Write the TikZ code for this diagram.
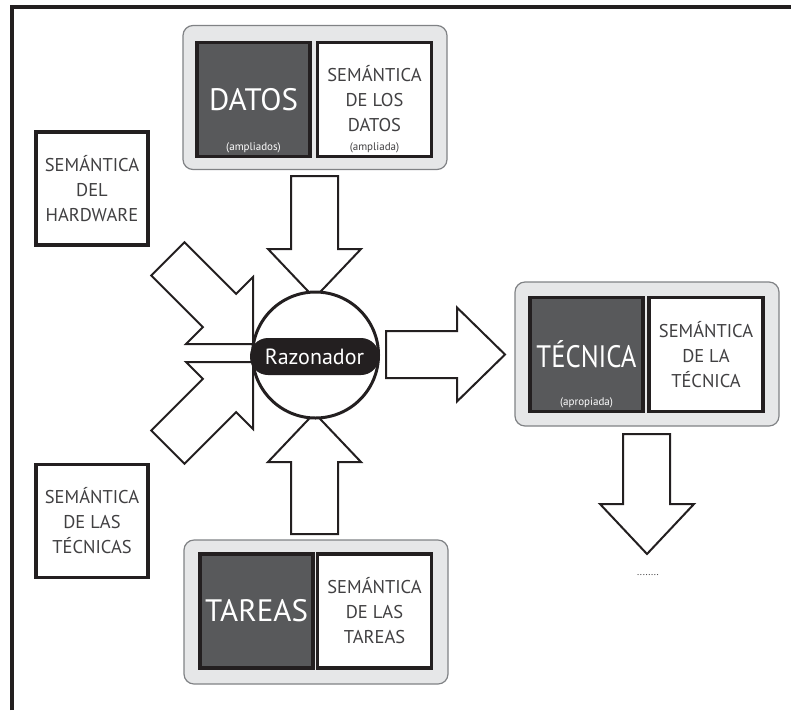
\documentclass[tikz,border=0pt]{standalone}
\usepackage{fontspec}
\setmainfont{PT Sans}
\definecolor{ink}{HTML}{231F20}
\definecolor{darkfill}{HTML}{58595B}
\definecolor{panelfill}{HTML}{E6E7E8}
\definecolor{panelline}{HTML}{808285}
\definecolor{labelgray}{HTML}{414042}
\begin{document}
\begin{tikzpicture}[x=1pt,y=-1pt,
  panel/.style={draw=panelline,line width=1.2pt,fill=panelfill,rounded corners=10pt,
    minimum width=264pt,minimum height=144pt,inner sep=0pt},
  darkbox/.style={draw=ink,line width=3.2pt,fill=darkfill,minimum width=113pt,
    minimum height=114pt,inner sep=0pt},
  semabox/.style={draw=ink,line width=3.2pt,fill=white,minimum width=114pt,
    minimum height=114pt,inner sep=0pt},
  bigword/.style={text=white,font=\fontsize{31}{34}\selectfont,inner sep=0pt},
  smallnote/.style={font=\fontsize{11}{12}\selectfont,inner sep=0pt},
  semtext/.style={text=labelgray,align=center,font=\fontsize{18.5}{25}\selectfont,inner sep=0pt},
  blockarrow/.style={draw=ink,line width=2pt,fill=white,line join=miter},
]
\useasboundingbox (0,0) rectangle (791,710);

% page frame: left and top rules only
\draw[ink,line width=4pt] (12,710) -- (12,7) -- (791,7);

% data panel
\node[panel] (datapanel) at (315,97.5) {};
\node[darkbox] (datos) at (253.5,99.5) {};
\node[bigword] at (datos.center) {DATOS};
\node[smallnote,text=white] at ([yshift=10pt]datos.south) {(ampliados)};
\node[semabox] (semdatos) at (374.5,99.5) {};
\node[semtext] at ([yshift=1pt]semdatos.center) {SEMÁNTICA\\DE LOS\\DATOS};
\node[smallnote,text=labelgray] at ([yshift=10pt]semdatos.south) {(ampliada)};

% technique panel
\node[panel] (tecpanel) at (647,354) {};
\node[darkbox] (tecnica) at (586.5,354.5) {};
\node[bigword] at (tecnica.center) {\scalebox{0.86}[1]{TÉCNICA}};
\node[smallnote,text=white] at ([yshift=10pt]tecnica.south) {(apropiada)};
\node[semabox] (semtecnica) at (706,354.5) {};
\node[semtext] at (semtecnica.center) {SEMÁNTICA\\DE LA\\TÉCNICA};

% task panel
\node[panel] (tareaspanel) at (316,612) {};
\node[darkbox] (tareas) at (256.5,611) {};
\node[bigword] at (tareas.center) {TAREAS};
\node[semabox] (semtareas) at (374.5,611) {};
\node[semtext] at (semtareas.center) {SEMÁNTICA\\DE LAS\\TAREAS};

% free-standing semantics boxes
\node[semabox,minimum width=112pt,minimum height=113pt] (semhw) at (92,188.5) {};
\node[semtext] at (semhw.center) {SEMÁNTICA\\DEL\\HARDWARE};
\node[semabox,minimum width=112pt,minimum height=113pt] (semtecs) at (92,521) {};
\node[semtext] at (semtecs.center) {SEMÁNTICA\\DE LAS\\TÉCNICAS};

% block arrows into and out of the reasoner
\draw[blockarrow] (291,176) -- (338,176) -- (338,249) -- (361,249) -- (314.5,298)
  -- (268,249) -- (291,249) -- cycle;
\draw[blockarrow] (291,534) -- (338,534) -- (338,462) -- (361,462) -- (314.5,413)
  -- (268,462) -- (291,462) -- cycle;
\draw[blockarrow] (184.5,242.3) -- (236.1,293.9) -- (253,277) -- (253,344) -- (186,344)
  -- (202.9,327.1) -- (151.3,275.5) -- cycle;
\draw[blockarrow] (184.5,463.7) -- (236.1,412.1) -- (253,429) -- (253,362) -- (186,362)
  -- (202.9,378.9) -- (151.3,430.5) -- cycle;
\draw[blockarrow] (386,331) -- (457,331) -- (457,307.5) -- (505,354.5) -- (457,401.5)
  -- (457,378) -- (386,378) -- cycle;
\draw[blockarrow] (623,434) -- (670,434) -- (670,504) -- (694,504) -- (647,554)
  -- (600,504) -- (623,504) -- cycle;

% reasoner
\node[circle,draw=ink,line width=3pt,fill=white,minimum size=126pt,inner sep=0pt]
  (core) at (315.5,355) {};
\node[fill=ink,rounded corners=18pt,minimum width=129pt,minimum height=37pt,inner sep=0pt,
  text=white,font=\fontsize{22}{25}\selectfont] (razonador) at (314.5,356.5) {Razonador};

% continuation mark
\node[font=\fontsize{10}{11}\selectfont,text=labelgray,inner sep=0pt] (more) at (648,575) {........};
\end{tikzpicture}
\end{document}
